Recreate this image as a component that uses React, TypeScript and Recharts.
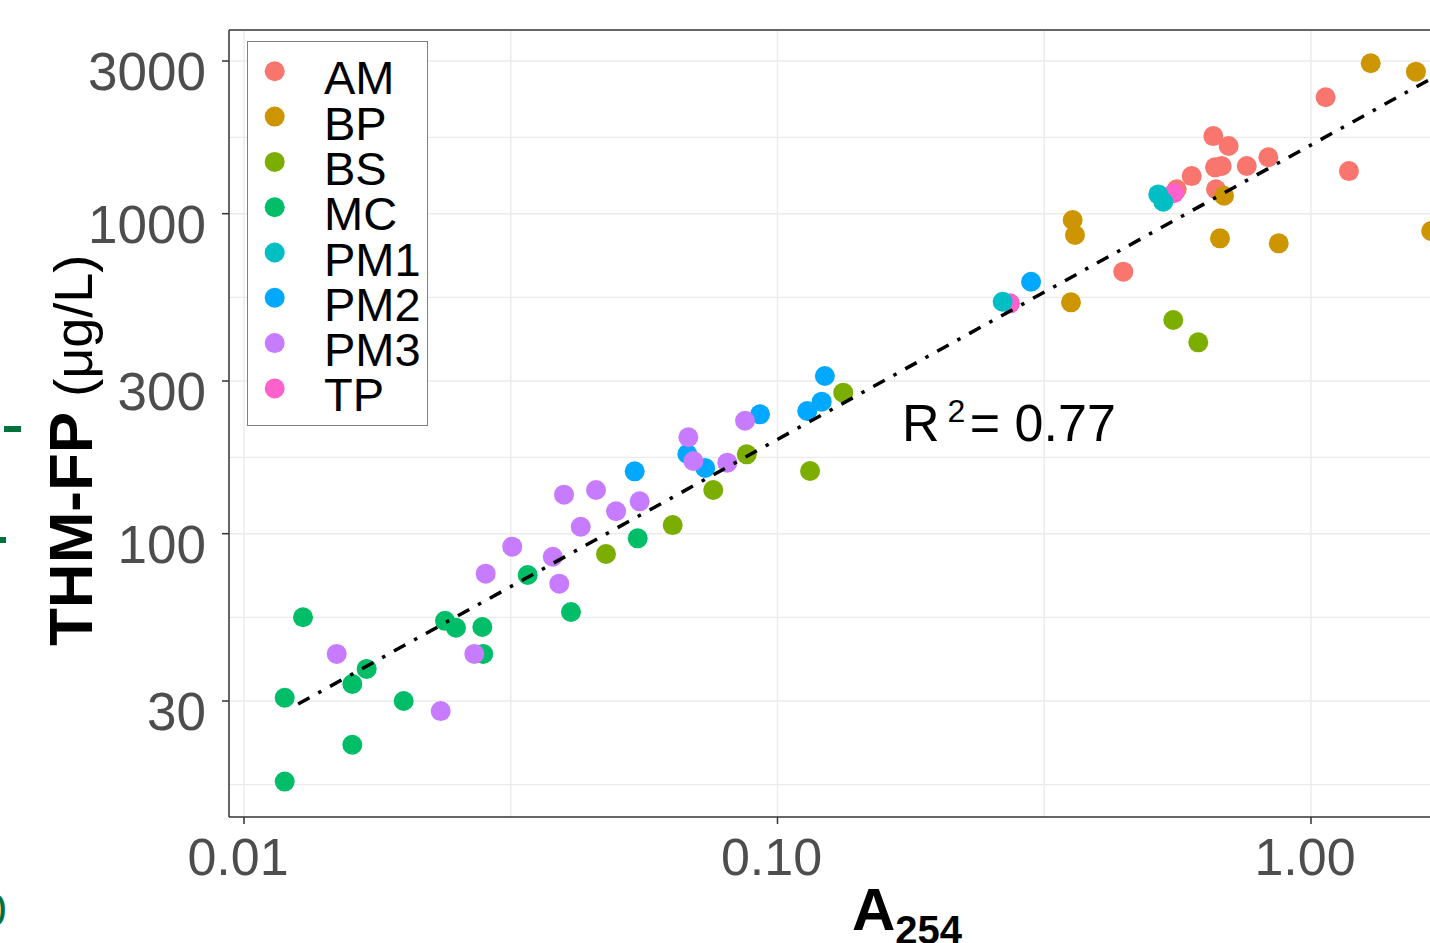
import React from 'react';
import { ScatterChart, Scatter, XAxis, YAxis, ReferenceLine, Legend, Label } from 'recharts';

const FONT = '"Liberation Sans", Arial, Helvetica, sans-serif';

// A254 vs THM-FP (ug/L)
const AM = [[0.5602, 1192], [0.5975, 1311], [0.656, 1748], [0.7009, 1627], [0.6609, 1396], [0.6802, 1409], [0.6636, 1192], [0.7578, 1409], [0.8318, 1501], [1.065, 2311], [1.178, 1359], [0.4448, 658.8]];
const BP = [[0.3575, 955.4], [0.3611, 857.8], [0.3549, 528.4], [0.687, 1138], [0.6752, 837.5], [0.87, 808], [1.294, 2951], [1.573, 2778], [1.68, 883]];
const BS = [[0.0477, 86.4], [0.06362, 106.4], [0.07579, 136.9], [0.08757, 177], [0.1151, 157], [0.1328, 275.8], [0.5519, 465.3], [0.6148, 396.3]];
const MC = [[0.01192, 30.7], [0.0129, 54.8], [0.01596, 33.9], [0.01698, 37.8], [0.01992, 30.0], [0.01596, 21.9], [0.01192, 16.8], [0.02381, 53.4], [0.02496, 50.8], [0.02797, 51.1], [0.02808, 42.1], [0.03402, 74.3], [0.04101, 56.9], [0.0547, 96.7]];
const PM1 = [[0.2643, 530.7], [0.5173, 1149], [0.5286, 1090]];
const PM2 = [[0.05399, 156.6], [0.06776, 177.4], [0.07319, 160.4], [0.09273, 236], [0.1137, 241.7], [0.121, 258.5], [0.1227, 311], [0.2987, 613]];
const PM3 = [[0.01492, 42.1], [0.02337, 27.9], [0.02702, 42.1], [0.02838, 75], [0.03183, 91.1], [0.03791, 84.7], [0.03899, 69.8], [0.0398, 132.4], [0.04277, 105.1], [0.04569, 136.9], [0.04982, 117.5], [0.05516, 126.2], [0.06806, 200.1], [0.06955, 168.7], [0.08053, 166.7], [0.08692, 225.4]];
const TP = [[0.2728, 524.7], [0.5536, 1158]];

// fitted line end points
const FIT = [[0.01263, 29.36], [1.68, 2643]];

const X_TICKS = [0.01, 0.1, 1];
const X_TICK_LABELS = ['0.01', '0.10', '1.00'];
const X_MINOR = [0.03162, 0.3162];
const Y_TICKS = [30, 100, 300, 1000, 3000];
const Y_MINOR = [16.43, 54.77, 173.2, 547.7, 1732];
const X_DOMAIN = [0.009373, 3.263];
const Y_DOMAIN = [13.02, 3750];

const COLORS: Record<string, string> = {
  AM: '#F8766D',
  BP: '#CD9600',
  BS: '#7CAE00',
  MC: '#00BE67',
  PM1: '#00BFC4',
  PM2: '#00A9FF',
  PM3: '#C77CFF',
  TP: '#FF61CC',
};
const LEGEND_ORDER = ['AM', 'BP', 'BS', 'MC', 'PM1', 'PM2', 'PM3', 'TP'];

const toPts = (pairs: number[][]) => pairs.map(([x, y]) => ({ x, y }));

// drawing order (later = on top)
const LAYERS = [
  { name: 'MC', data: MC },
  { name: 'PM2', data: PM2 },
  { name: 'PM3', data: PM3 },
  { name: 'BS', data: BS },
  { name: 'AM', data: AM },
  { name: 'BP', data: BP },
  { name: 'TP', data: TP },
  { name: 'PM1', data: PM1 },
];

const YTick = ({ x, y, payload }: any) => (
  <text x={x} y={y + 29} textAnchor="end" fill="#4D4D4D" fontSize={53} fontFamily={FONT}>
    {payload.value}
  </text>
);

const XTick = ({ x, y, payload }: any) => {
  const i = X_TICKS.indexOf(payload.value);
  return (
    <text x={x - 6} y={y + 49} textAnchor="middle" fill="#4D4D4D" fontSize={52} fontFamily={FONT}>
      {i >= 0 ? X_TICK_LABELS[i] : payload.value}
    </text>
  );
};

const LegendBox = () => (
  <svg width={182} height={386} style={{ display: 'block' }}>
    <rect x={0.5} y={0.5} width={180} height={384} fill="#fff" stroke="#7F7F7F" strokeWidth={1} />
    {LEGEND_ORDER.map((name, i) => (
      <g key={name}>
        <circle cx={27.7} cy={30.3 + i * 45.3} r={10} fill={COLORS[name]} />
        <text x={77} y={53.3 + i * 45.3} fontSize={47} fontFamily={FONT} fill="#000">
          {name}
        </text>
      </g>
    ))}
  </svg>
);

export default function App() {
  return (
    <div style={{ position: 'fixed', left: 0, top: 0, width: 1430, height: 943, overflow: 'hidden', background: '#fff' }}>
      <ScatterChart width={1600} height={943} margin={{ top: 30, right: 15, bottom: 0, left: 0 }}>
        <XAxis
          type="number"
          dataKey="x"
          scale="log"
          domain={X_DOMAIN}
          allowDataOverflow
          ticks={X_TICKS}
          interval={0}
          height={126}
          tickSize={7}
          tickMargin={2}
          tick={<XTick />}
          tickLine={{ stroke: '#333333', strokeWidth: 1.5 }}
          axisLine={{ stroke: '#333333', strokeWidth: 1.5 }}
        >
          <Label
            content={({ viewBox }: any) => (
              <text
                x={viewBox.x + viewBox.width / 2}
                y={930}
                textAnchor="middle"
                fontFamily={FONT}
                fontWeight="bold"
                fill="#000"
              >
                <tspan fontSize={60}>A</tspan>
                <tspan fontSize={40} dy={14}>254</tspan>
              </text>
            )}
          />
        </XAxis>
        <YAxis
          type="number"
          dataKey="y"
          scale="log"
          domain={Y_DOMAIN}
          allowDataOverflow
          ticks={Y_TICKS}
          interval={0}
          width={229}
          tickSize={7}
          tickMargin={16}
          tick={<YTick />}
          tickLine={{ stroke: '#333333', strokeWidth: 1.5 }}
          axisLine={{ stroke: '#333333', strokeWidth: 1.5 }}
        >
          <Label
            content={() => (
              <text x={92} y={646} transform="rotate(-90, 92, 646)" textAnchor="start" fontFamily={FONT} fill="#000">
                <tspan fontSize={62} fontWeight="bold">THM-FP</tspan>
                <tspan fontSize={54}> (μg/L)</tspan>
              </text>
            )}
          />
        </YAxis>

        {[...X_MINOR, ...X_TICKS].map((v) => (
          <ReferenceLine key={'gx' + v} x={v} stroke="#EBEBEB" strokeWidth={1.4} />
        ))}
        {[...Y_MINOR, ...Y_TICKS].map((v) => (
          <ReferenceLine key={'gy' + v} y={v} stroke="#EBEBEB" strokeWidth={1.4} />
        ))}
        <ReferenceLine y={Y_DOMAIN[1]} stroke="#333333" strokeWidth={1.5} />

        <Legend
          layout="vertical"
          align="center"
          verticalAlign="middle"
          content={<LegendBox />}
          wrapperStyle={{ position: 'absolute', left: 247, top: 41, width: 182, height: 386 }}
        />

        {LAYERS.map((g) => (
          <Scatter
            key={g.name}
            name={g.name}
            data={toPts(g.data)}
            isAnimationActive={false}
            shape={(p: any) => <circle cx={p.cx} cy={p.cy} r={10} fill={COLORS[g.name]} />}
          />
        ))}
        <Scatter
          name="fit"
          data={toPts(FIT)}
          isAnimationActive={false}
          legendType="none"
          line={{ stroke: '#000', strokeWidth: 3.5, strokeDasharray: '13 10 3.5 10' }}
          shape={() => <g />}
        />
      </ScatterChart>

      <svg
        width={1430}
        height={943}
        style={{ position: 'absolute', left: 0, top: 0, pointerEvents: 'none' }}
      >
        <text x={902} y={441} fontSize={52} fontFamily={FONT} fill="#000">
          R
          <tspan dx={8} dy={-19} fontSize={32}>2</tspan>
          <tspan dx={-10} dy={19} fontSize={52}> = 0.77</tspan>
        </text>
        {/* fragments of the neighbouring panel */}
        <rect x={4} y={426} width={17} height={6} fill="#00703C" />
        <rect x={0} y={537} width={6} height={6} fill="#00703C" />
        <text x={-19} y={926} fontSize={46} fontFamily={FONT} fill="#00703C">0</text>
      </svg>
    </div>
  );
}
